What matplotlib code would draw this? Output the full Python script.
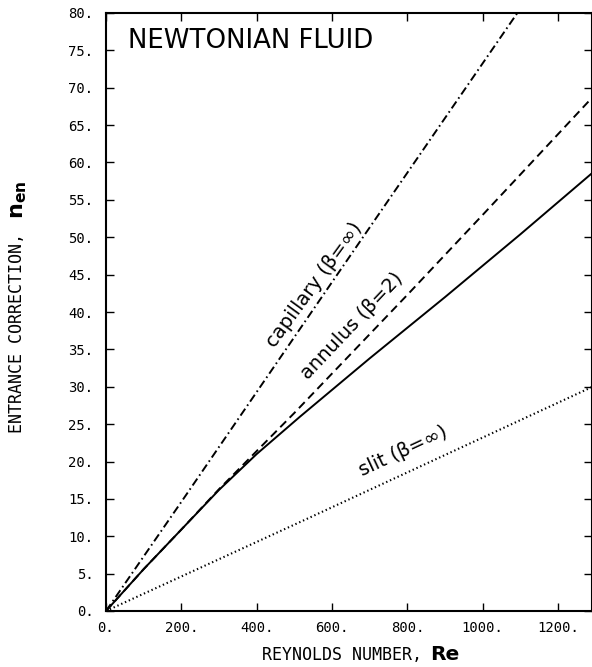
import numpy as np
import matplotlib
matplotlib.use("Agg")
import matplotlib.pyplot as plt

# ---- dados ----
re_capilar = [0, 200, 600, 1100]
n_capilar = [0, 14.6, 44.0, 80.6]

re_anular = [0, 100, 200, 300, 500, 800, 1000, 1300]
n_anular = [0, 5.6, 10.9, 16.3, 26.5, 42.3, 53.0, 69.2]

re_solido = [0, 100, 200, 300, 400, 515, 700, 900, 1100, 1300]
n_solido = [0, 5.6, 10.9, 16.2, 21.0, 26.0, 33.8, 42.0, 50.4, 59.0]

re_fenda = [0, 515, 1300]
n_fenda = [0, 11.9, 30.2]

x_ticks = [0, 200, 400, 600, 800, 1000, 1200]
y_ticks = list(range(0, 81, 5))

plt.rcParams["lines.scale_dashes"] = False

W, H = 592, 667
fig = plt.figure(figsize=(W / 100, H / 100), dpi=100)
ax = fig.add_axes([106 / W, 1 - 611 / H, (592 - 106) / W, (611 - 13) / H])

lw = 1.4
ax.plot(re_capilar, n_capilar, color="black", lw=lw, dashes=(6, 2.5, 1.2, 2.5))
ax.plot(re_anular, n_anular, color="black", lw=lw, dashes=(6, 3.6))
ax.plot(re_solido, n_solido, color="black", lw=lw)
ax.plot(re_fenda, n_fenda, color="black", lw=1.5, dashes=(1, 2))

ax.set_xlim(0, 1290)
ax.set_ylim(0, 80)

ax.set_xticks(x_ticks)
ax.set_yticks(y_ticks)
ax.set_xticklabels([f"{v}." for v in x_ticks], family="DejaVu Sans Mono", fontsize=10)
ax.set_yticklabels([f"{v}." for v in y_ticks], family="DejaVu Sans Mono", fontsize=10)
ax.tick_params(axis="both", direction="in", length=6, width=1, top=True, right=True)
ax.tick_params(axis="y", pad=9)
ax.tick_params(axis="x", pad=7)
for s in ax.spines.values():
    s.set_linewidth(1.5)

# rótulos das curvas
estilo = dict(fontsize=14, family="DejaVu Sans", ha="center", va="center",
              rotation_mode="anchor")
ax.text(552, 43.6, "capillary (β=∞)", rotation=54, **estilo)
ax.text(653, 38.1, "annulus (β=2)", rotation=46.5, **estilo)
ax.text(790, 21.4, "slit (β=∞)", rotation=25, **estilo)

ax.text(128 / W, 1 - 48 / H, "NEWTONIAN FLUID", transform=fig.transFigure,
        fontsize=18.7, family="DejaVu Sans", ha="left", va="baseline")

# rótulos dos eixos, em duas partes
fig.canvas.draw()
r = fig.canvas.get_renderer()

tx = fig.text(262 / W, 1 - 660 / H, "REYNOLDS NUMBER,", family="DejaVu Sans Mono",
              fontsize=12, ha="left", va="baseline")
w1 = tx.get_window_extent(r).width
fig.text((262 + w1 + 8) / W, 1 - 660 / H, "Re", family="DejaVu Sans",
         fontweight="bold", fontsize=14.5, ha="left", va="baseline")

ty = fig.text(17 / W, 1 - 433 / H, "ENTRANCE CORRECTION,", family="DejaVu Sans Mono",
              fontsize=12, rotation=90, ha="center", va="bottom")
h1 = ty.get_window_extent(r).height
fig.text(19 / W, (H - 433 + h1 + 14) / H, r"$\mathbf{n}_{\mathbf{en}}$",
         fontsize=16, rotation=90, ha="center", va="bottom")

fig.savefig("out.png", dpi=100)
